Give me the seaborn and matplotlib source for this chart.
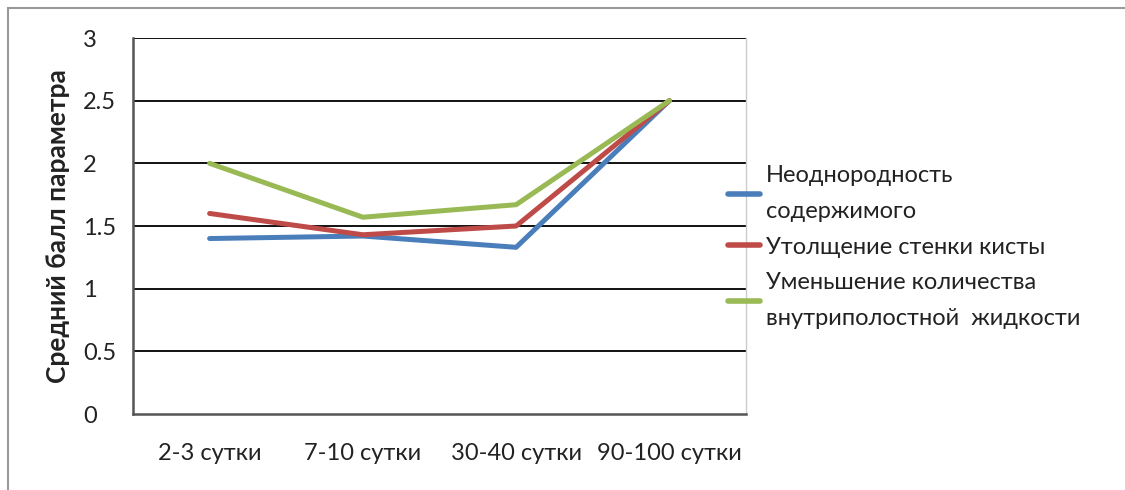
import matplotlib
matplotlib.use("Agg")
import matplotlib.pyplot as plt
import seaborn as sns
import pandas as pd
from matplotlib.lines import Line2D

categories = ["2-3 сутки", "7-10 сутки", "30-40 сутки", "90-100 сутки"]
series_names = ["Неоднородность\nсодержимого", "Утолщение стенки кисты",
                "Уменьшение количества\nвнутриполостной  жидкости"]
s_blue = [1.40, 1.42, 1.33, 2.50]
s_red = [1.60, 1.43, 1.50, 2.50]
s_green = [2.00, 1.57, 1.67, 2.50]
y_ticks = [0, 0.5, 1, 1.5, 2, 2.5, 3]
y_tick_labels = ["0", "0.5", "1", "1.5", "2", "2.5", "3"]
colors = ["#4A7EBB", "#BE4B48", "#98B954"]

rows = []
for name, vals in zip(series_names, [s_blue, s_red, s_green]):
    for i, (c, v) in enumerate(zip(categories, vals)):
        rows.append({"x": i, "cat": c, "value": v, "series": name})
df = pd.DataFrame(rows)

sns.set_theme(style="white")
plt.rcParams["font.family"] = ["Lato", "DejaVu Sans"]

fig = plt.figure(figsize=(11.25, 4.9), dpi=100)
ax = fig.add_axes([133/1125, 1-414/490, (746-133)/1125, (414-38)/490])

for y in y_ticks[1:]:
    ax.axhline(y, color="#111111", lw=1.4, zorder=1)

sns.lineplot(data=df, x="x", y="value", hue="series", palette=colors,
             hue_order=series_names, lw=3.6, ax=ax, legend=True, zorder=3)

FS = 17
ax.set_xlim(-0.5, 3.5)
ax.set_ylim(0, 3)
ax.set_xticks(range(len(categories)))
ax.set_xticklabels(categories, fontsize=FS, color="#222222")
ax.set_yticks(y_ticks)
ax.set_yticklabels(y_tick_labels, fontsize=FS, ha="left", color="#222222")
ax.tick_params(axis="y", length=0, pad=36)
ax.tick_params(axis="x", length=0, pad=21)
ax.set_xlabel("")
ax.set_ylabel("Средний балл параметра", fontsize=19, fontweight="bold", color="#222222")
ax.yaxis.set_label_coords(-0.103, 0.5)

for side in ["left", "bottom"]:
    ax.spines[side].set_color("#555555")
    ax.spines[side].set_linewidth(1.8)
ax.spines["right"].set_color("#cccccc")
ax.spines["right"].set_linewidth(1.0)
ax.spines["top"].set_visible(False)

handles, labels = ax.get_legend_handles_labels()
leg = ax.legend(handles, labels, loc="center left",
                bbox_to_anchor=(728/1125, 1-247/490), bbox_transform=fig.transFigure,
                frameon=False, fontsize=FS, handlelength=1.35, handletextpad=0.25,
                labelspacing=0.62, borderpad=0, borderaxespad=0)
for t in leg.get_texts():
    t.set_linespacing(1.85)
    t.set_color("#222222")
for h in leg.get_lines():
    h.set_linewidth(4)

fig.add_artist(Line2D([8/1125, 1], [1-8/490, 1-8/490], transform=fig.transFigure,
                      color="#999999", lw=1.5))
fig.add_artist(Line2D([8/1125, 8/1125], [0, 1-8/490], transform=fig.transFigure,
                      color="#999999", lw=1.5))

fig.savefig("out.png", dpi=100, facecolor="white")
